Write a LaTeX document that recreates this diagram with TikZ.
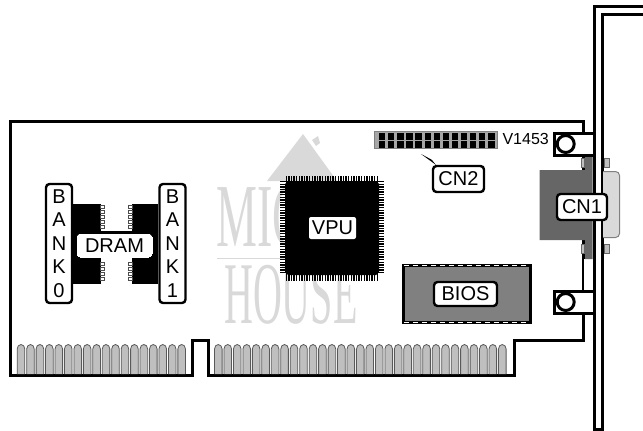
\documentclass[tikz,border=0pt]{standalone}
\usepackage{fontspec}
\setmainfont{Liberation Sans}
\newfontfamily\logofont{Liberation Serif}
\usepackage{tikz}
\definecolor{logogray}{gray}{0.85}
\definecolor{fingergray}{gray}{0.75}
\definecolor{shellgray}{gray}{0.4}
\definecolor{biosgray}{gray}{0.5}
\begin{document}
\begin{tikzpicture}[x=1pt,y=-1pt]
 \useasboundingbox (0,0) rectangle (643,431);
 \tikzstyle{tag} = [draw,fill=white,line width=2.4pt,rounded corners=3.5pt,inner sep=0pt,font=\fontsize{20}{20}\selectfont]
 \tikzstyle{bank} = [tag,minimum width=26pt,minimum height=119pt,align=center,font=\fontsize{20}{23.6}\selectfont]
 \tikzstyle{finger} = [fill=fingergray,draw=black!65,line width=0.8pt]
 \tikzstyle{logo} = [text=logogray,font=\logofont\fontsize{40}{40}\selectfont,inner sep=0pt]

 \fill[logogray] (303,134) -- (267,181) -- (337,181) -- cycle;
 \fill[logogray] (312,140) -- (318,136) -- (320,143) -- (316,146) -- cycle;
 \node[logo,xscale=1.15,yscale=2.25,anchor=west] (logotop) at (216,217) {MIC};
 \fill[logogray] (217,257.5) rectangle (300,259);
 \node[logo,xscale=1.0,yscale=2.2,anchor=west] (logobottom) at (224,295) {HOUSE};

 \draw[line width=3pt] (10,121) -- (583,121) -- (583,340) -- (514.5,340) -- (514.5,375) -- (208.5,375) -- (208.5,340) -- (192,340) -- (192,375.5) -- (10,375.5) -- cycle;
 \foreach \i in {0,...,17} {
  \draw[finger] ({21+9.45*\i-3.8},374) -- ({21+9.45*\i-3.8},349) arc (180:360:3.8 and 4.5) -- ({21+9.45*\i+3.8},374);
 }
 \foreach \i in {0,...,30} {
  \draw[finger] ({218.3+9.467*\i-3.8},374) -- ({218.3+9.467*\i-3.8},349) arc (180:360:3.8 and 4.5) -- ({218.3+9.467*\i+3.8},374);
 }

 \draw[line width=3pt] (643,6) -- (594.5,6) -- (594.5,429) -- (602.5,429) -- (602.5,14) -- (643,14);
 \fill[white] (596.5,8) rectangle (600.5,427);

 \fill[black] (73,204) rectangle (100.5,284);
 \fill[black] (132,204) rectangle (158,284);
 \foreach \y in {207,212,217,222,227,264,269,274,279} {
  \draw[black!70,line width=0.8pt,fill=white] (100.5,\y-1.5) rectangle (104,\y+1.5);
  \draw[black!70,line width=0.8pt,fill=white] (128,\y-1.5) rectangle (132,\y+1.5);
 }
 \fill[black] (100,231) rectangle (132,235);
 \node[tag,line width=0pt,draw=white,minimum width=75pt,minimum height=23pt] (dram) at (114.5,245.5) {DRAM};
 \node[bank] (bank0) at (59,243.5) {B\\A\\N\\K\\0};
 \node[bank] (bank1) at (172.5,243.5) {B\\A\\N\\K\\1};

 \foreach \i in {0,...,35} {
  \fill (285.5+2.6*\i,176) rectangle (286.9+2.6*\i,281);
  \fill (280,183.5+2.6*\i-2.6) rectangle (384,184.9+2.6*\i-2.6);
 }
 \fill (288,181) -- (376,181) -- (379,184) -- (379,272) -- (376,275) -- (288,275) -- (285,272) -- (285,184) -- cycle;
 \node[fill=white,rounded corners=2pt,inner sep=0pt,minimum width=47pt,minimum height=22pt,font=\fontsize{20}{20}\selectfont] (vpu) at (332.5,228) {VPU};

 \fill[biosgray] (403,265) rectangle (530,323);
 \draw[line width=3pt,black] (403,265.5) rectangle (530,322.5);
 \draw[white,line width=1pt,dash pattern=on 5pt off 4pt] (404,265.5) -- (529,265.5);
 \draw[white,line width=1pt,dash pattern=on 5pt off 4pt] (404,322.5) -- (529,322.5);
 \node[tag,minimum width=63pt,minimum height=24pt] (bios) at (465.5,294) {BIOS};

 \draw[draw=black!50,fill=biosgray!70!white,line width=1pt] (374.5,131.5) rectangle (497.5,148.5);
 \foreach \i in {0,...,12} {
  \fill (379+9.1*\i,133) rectangle (385.3+9.1*\i,139.5);
  \fill (379+9.1*\i,141) rectangle (385.3+9.1*\i,147.5);
 }
 \node[inner sep=0pt,font=\fontsize{16}{16}\selectfont] (part) at (525.7,138.5) {V1453};

 \coordinate (tip) at (421,154);
 \node[tag,minimum width=51pt,minimum height=26pt] (cn2) at (458.5,179) {CN2};
 \fill (tip) -- ([xshift=4pt]cn2.north west) -- ([yshift=5pt]cn2.north west) -- cycle;

 \fill[white] (584,259) rectangle (592.5,290);
 \draw[draw=black!50,fill=logogray,line width=1pt,rounded corners=4pt] (603,171.5) -- (619.5,171.5) -- (619.5,237.5) -- (603,237.5);
 \foreach \y in {158,244} {
  \draw[draw=black!60,fill=fingergray,line width=0.8pt] (604,\y) rectangle (609,\y+9);
  \draw[draw=black!60,fill=fingergray,line width=0.8pt] (581,\y) rectangle (584.5,\y+9);
 }
 \fill[shellgray] (585,153) -- (592.5,153) -- (592.5,259) -- (585,259) -- (585,240) -- (539.5,240) -- (539.5,170) -- (585,170) -- cycle;
 \node[tag,minimum width=50pt,minimum height=26pt] (cn1) at (582,207) {CN1};

 \draw[line width=3pt,fill=white] (592.5,133) -- (554,133) -- (554,155) -- (592.5,155);
 \draw[line width=3pt,fill=white] (592.5,291) -- (554,291) -- (554,313) -- (592.5,313);
 \node[circle,draw,fill=white,line width=3pt,minimum size=17pt,inner sep=0pt] (screwtop) at (565.7,144) {};
 \node[circle,draw,fill=white,line width=3pt,minimum size=17pt,inner sep=0pt] (screwbottom) at (565.7,302) {};
\end{tikzpicture}
\end{document}
